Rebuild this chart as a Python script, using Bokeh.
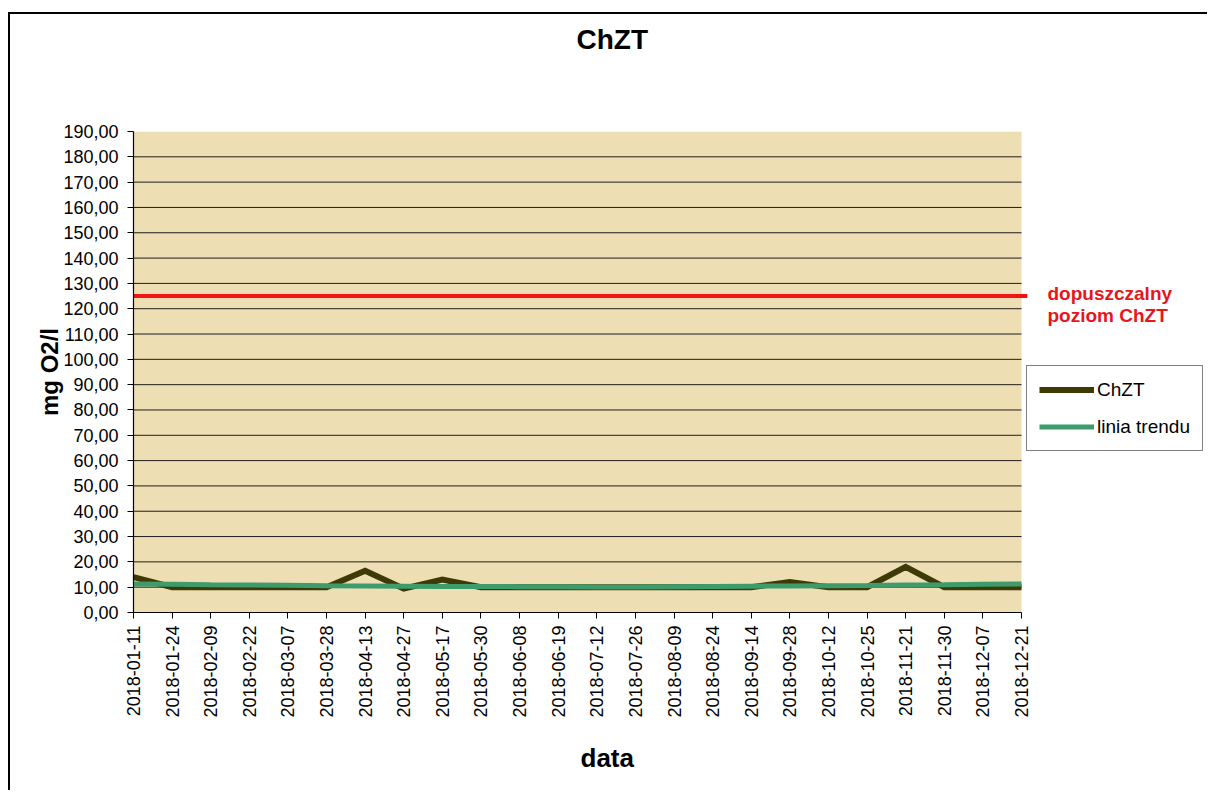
import math
from bokeh.plotting import figure
from bokeh.models import Range1d, FixedTicker, Legend, LegendItem, Label, BoxAnnotation, Title
from bokeh.embed import file_html
from bokeh.resources import INLINE

# ---------------- data ----------------
dates = ["2018-01-11", "2018-01-24", "2018-02-09", "2018-02-22", "2018-03-07",
         "2018-03-28", "2018-04-13", "2018-04-27", "2018-05-17", "2018-05-30",
         "2018-06-08", "2018-06-19", "2018-07-12", "2018-07-26", "2018-08-09",
         "2018-08-24", "2018-09-14", "2018-09-28", "2018-10-12", "2018-10-25",
         "2018-11-21", "2018-11-30", "2018-12-07", "2018-12-21"]
chzt = [14.0, 10.0, 10.0, 10.0, 10.0, 10.0, 16.5, 9.4, 13.0, 10.0,
        10.0, 10.0, 10.0, 10.0, 10.0, 10.0, 10.0, 12.0, 10.0, 10.0,
        18.0, 10.0, 10.0, 10.0]
trend = [11.3, 11.2, 11.0, 10.9, 10.8, 10.6, 10.5, 10.4, 10.3, 10.3,
         10.2, 10.2, 10.1, 10.1, 10.2, 10.3, 10.4, 10.5, 10.6, 10.7,
         10.9, 11.0, 11.2, 11.3]
limit_value = 125.0
y_ticks = [0, 10, 20, 30, 40, 50, 60, 70, 80, 90, 100, 110, 120, 130, 140,
           150, 160, 170, 180, 190]
series_names = ["ChZT", "linia trendu"]
limit_label = ["dopuszczalny", "poziom ChZT"]
title_text = "ChZT"
x_title = "data"
y_title = "mg O2/l"

FONT = "Liberation Sans"
x = list(range(len(dates)))
last = len(dates) - 1

# layout (pixels)
PLOT_W = 888          # width of the tan plotting area
EXTRA_RIGHT = 188     # room right of the plotting area for legend / labels
x_end = last + EXTRA_RIGHT / (PLOT_W / last)

p = figure(width=1199, height=778, output_backend="svg", toolbar_location=None,
           x_range=Range1d(0, x_end), y_range=Range1d(0, y_ticks[-1]),
           min_border_left=123, min_border_right=0,
           min_border_top=117, min_border_bottom=180)
p.styles = {"margin-left": "8px", "margin-top": "12px",
            "border-left": "2px solid #000", "border-top": "2px solid #000"}
p.background_fill_color = "white"
p.border_fill_color = "white"
p.outline_line_color = None

# spacer between plot area and the title (empty text)
p.add_layout(Title(text=" ", text_font=FONT, text_font_size="28px", standoff=44), "above")
p.title = Title(text=title_text, text_font=FONT, text_font_size="28px",
                text_font_style="bold", text_color="black",
                align="left", offset=443, standoff=0)

# tan plotting area
p.add_layout(BoxAnnotation(left=0, right=last, fill_color="#EEDEB4", fill_alpha=1.0,
                           line_color=None, level="underlay"))

# axes
p.xaxis.ticker = FixedTicker(ticks=x)
p.xaxis.bounds = (0, last)
p.xaxis.major_label_overrides = {i: d for i, d in enumerate(dates)}
p.xaxis.major_label_orientation = math.pi / 2
p.xaxis.major_label_text_font = FONT
p.xaxis.major_label_text_font_size = "18px"
p.xaxis.major_label_text_color = "black"
p.xaxis.major_label_standoff = 7

p.add_layout(Title(text=x_title, text_font=FONT, text_font_size="26px",
                   text_font_style="bold", text_color="black",
                   align="left", offset=447, standoff=40), "below")

p.yaxis.ticker = FixedTicker(ticks=y_ticks)
p.yaxis.major_label_overrides = {t: f"{t:.2f}".replace(".", ",") for t in y_ticks}
p.yaxis.major_label_text_font = FONT
p.yaxis.major_label_text_font_size = "18px"
p.yaxis.major_label_text_color = "black"
p.yaxis.major_label_standoff = 9
p.yaxis.axis_label = y_title
p.yaxis.axis_label_text_font = FONT
p.yaxis.axis_label_text_font_size = "24px"
p.yaxis.axis_label_text_font_style = "bold"
p.yaxis.axis_label_text_color = "black"
p.yaxis.axis_label_standoff = -3

for ax in (p.xaxis, p.yaxis):
    ax.axis_line_color = "black"
    ax.axis_line_width = 1.2
    ax.major_tick_line_color = "black"
    ax.major_tick_in = 0
    ax.major_tick_out = 6
    ax.minor_tick_line_color = None

p.xgrid.visible = False
p.ygrid.visible = False

# horizontal grid lines across the plotting area only
grid_y = y_ticks[1:-1]
p.segment(x0=[0] * len(grid_y), x1=[last] * len(grid_y), y0=grid_y, y1=grid_y,
          line_color="#1E1E1E", line_width=1)

# series
r1 = p.line(x, chzt, line_color="#3D3A06", line_width=6, line_join="miter")
r2 = p.line(x, trend, line_color="#3E9B6C", line_width=5)

# permissible level
p.line([0, last + 0.15], [limit_value, limit_value], line_color="#F01414", line_width=4)
p.add_layout(Label(x=last, y=limit_value, x_offset=26, y_offset=2.5,
                   text=limit_label[0], text_baseline="alphabetic",
                   text_font=FONT, text_font_size="19px", text_font_style="bold",
                   text_color="#E8161C"))
p.add_layout(Label(x=last, y=limit_value, x_offset=26, y_offset=-19.5,
                   text=limit_label[1], text_baseline="alphabetic",
                   text_font=FONT, text_font_size="19px", text_font_style="bold",
                   text_color="#E8161C"))

legend = Legend(items=[LegendItem(label=series_names[0], renderers=[r1]),
                       LegendItem(label=series_names[1], renderers=[r2])],
                location=(893, 161))
legend.label_text_font = FONT
legend.label_text_font_size = "19px"
legend.label_text_color = "black"
legend.border_line_color = "black"
legend.border_line_width = 1.2
legend.background_fill_color = "white"
legend.background_fill_alpha = 1.0
legend.padding = 12
legend.spacing = 14
legend.glyph_width = 55
legend.glyph_height = 23
legend.label_height = 23
legend.label_standoff = 3
legend.margin = 0
p.add_layout(legend)

open("out.html", "w").write(file_html(p, INLINE))
